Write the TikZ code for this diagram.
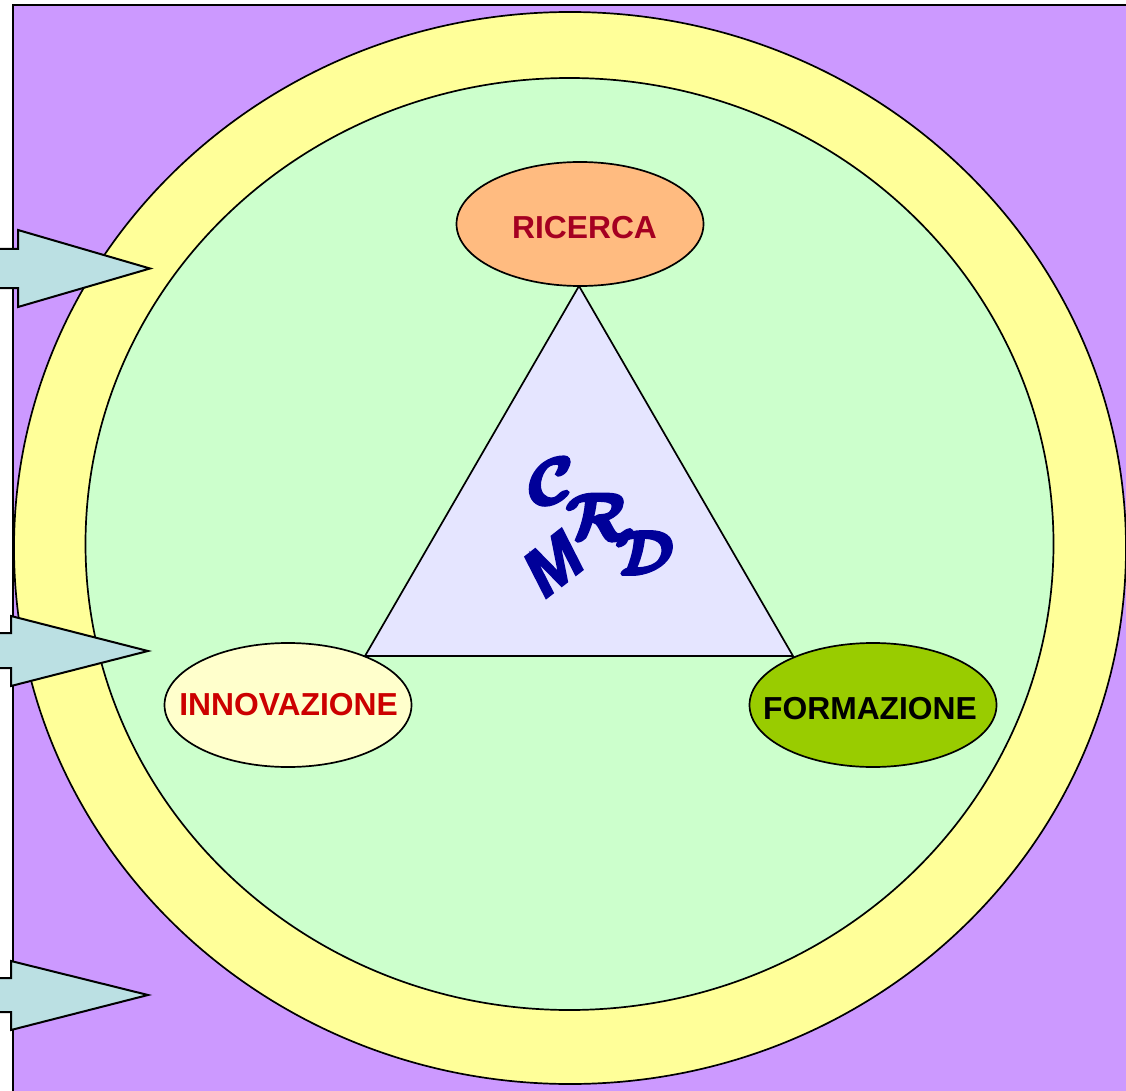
\documentclass[tikz,border=0pt]{standalone}
\usepackage{amsmath}
\usepackage{fontspec}
\setmainfont{Liberation Sans}
\newfontfamily\logofont{Liberation Sans Bold Italic}
\usetikzlibrary{shapes.geometric}
\definecolor{bgpurple}{HTML}{CC99FF}
\definecolor{ringyellow}{HTML}{FFFF99}
\definecolor{innergreen}{HTML}{CCFFCC}
\definecolor{peach}{HTML}{FFBB80}
\definecolor{paleyellow}{HTML}{FFFFCC}
\definecolor{olive}{HTML}{99CC00}
\definecolor{lavender}{HTML}{E5E5FF}
\definecolor{arrowblue}{HTML}{BBE0E3}
\definecolor{logoblue}{HTML}{000099}
\definecolor{darkred}{HTML}{A50021}
\definecolor{brightred}{HTML}{CC0000}
\newcommand{\heavycal}[1]{\special{pdf:code q 2 Tr 0.55 w 0 0 0.6 RG}$\boldsymbol{\mathcal{#1}}$\special{pdf:code Q}}
\newcommand{\heavysans}[1]{\special{pdf:code q 2 Tr 2 w 0 0 0.6 RG}#1\special{pdf:code Q}}
\begin{document}
\begin{tikzpicture}[x=1pt,y=-1pt,
    disc/.style={ellipse,draw,line width=1.7pt,inner sep=0pt,outer sep=0pt},
    pole/.style={ellipse,draw,line width=1.7pt,inner sep=0pt,outer sep=0pt,minimum width=247pt,minimum height=124pt},
    polename/.style={font=\fontsize{31.8}{34}\selectfont\bfseries,inner sep=0pt},
    logo/.style={text=logoblue,inner sep=0pt},
    inarrow/.style={draw,line width=2pt,fill=arrowblue,line join=miter}]

    \useasboundingbox (0,0) rectangle (1126,1091);
    \clip (0,0) rectangle (1126,1091);

    \draw[line width=2.5pt,fill=bgpurple] (13,5) rectangle (1150,1110);

    \node[disc,fill=ringyellow,minimum width=1112pt,minimum height=1072pt] (outer) at (570,548) {};
    \node[disc,fill=innergreen,minimum width=968pt,minimum height=932pt]   (inner) at (569.5,544) {};

    \draw[line width=1.7pt,fill=lavender] (579,286) -- (793,656) -- (365,656) -- cycle;

    \node[pole,fill=peach]      (ricerca)     at (580,224) {};
    \node[pole,fill=paleyellow] (innovazione) at (288,705) {};
    \node[pole,fill=olive]      (formazione)  at (873,705) {};

    \node[polename,text=darkred]   (ricercaname)     at (584.5,228) {RICERCA};
    \node[polename,text=brightred] (innovazionename) at (288.5,705) {INNOVAZIONE};
    \node[polename,text=black]     (formazionename)  at (870,709) {FORMAZIONE};

    \node[logo,scale=6.6]            (c) at (551,481) {\heavycal{C}};
    \node[logo,scale=6.6]            (r) at (599,517) {\heavycal{R}};
    \node[logo,scale=6.2]            (d) at (645,553) {\heavycal{D}};
    \node[logo,font=\logofont\fontsize{66}{66}\selectfont,rotate=38] (m) at (553,564) {\heavysans{M}};

    \draw[inarrow] (-5,249) -- (18,249) -- (18,230) -- (150,268.5) -- (18,307) -- (18,288) -- (-5,288);
    \draw[inarrow] (-5,633) -- (11,633) -- (11,616) -- (148,651) -- (11,686) -- (11,668) -- (-5,668);
    \draw[inarrow] (-5,978) -- (11,978) -- (11,961) -- (148,995) -- (11,1030) -- (11,1012) -- (-5,1012);
\end{tikzpicture}
\end{document}
